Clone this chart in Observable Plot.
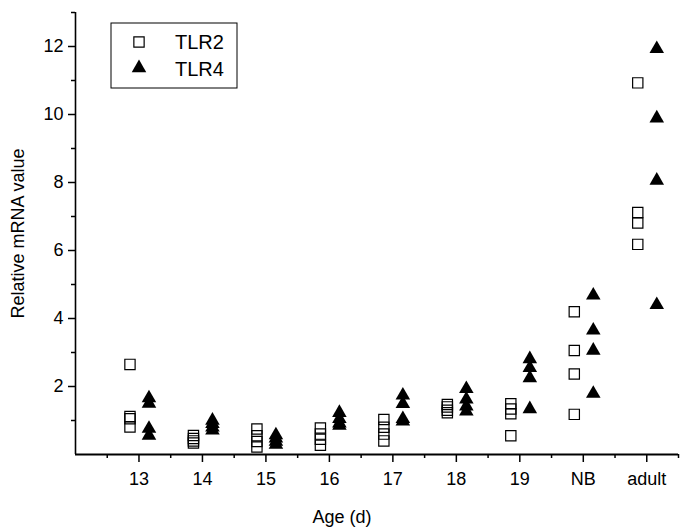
<!DOCTYPE html>
<html>
<head>
<meta charset="utf-8">
<script src="https://cdn.jsdelivr.net/npm/d3@7"></script>
<script src="https://cdn.jsdelivr.net/npm/@observablehq/plot@0.6"></script>
<style>
  html, body { margin: 0; padding: 0; background: white; }
  #chart { width: 683px; height: 527px; }
</style>
</head>
<body>
<div id="chart"></div>
<script>
const categories = ["13", "14", "15", "16", "17", "18", "19", "NB", "adult"];
const categoryPos = [13, 14, 15, 16, 17, 18, 19, 20, 21];
const tlr2 = [
  [2.65, 1.12, 1.05, 0.81],
  [0.56, 0.47, 0.40, 0.34],
  [0.75, 0.55, 0.38, 0.22],
  [0.78, 0.60, 0.45, 0.27],
  [1.03, 0.80, 0.60, 0.40],
  [1.47, 1.40, 1.30, 1.23],
  [1.49, 1.34, 1.20, 0.55],
  [4.20, 3.06, 2.37, 1.18],
  [10.93, 7.12, 6.81, 6.18]
];
const tlr4 = [
  [1.66, 1.50, 0.76, 0.56],
  [1.00, 0.90, 0.80, 0.71],
  [0.57, 0.48, 0.38, 0.29],
  [1.23, 1.05, 0.92, 0.85],
  [1.74, 1.49, 1.05, 0.98],
  [1.93, 1.62, 1.42, 1.27],
  [2.81, 2.55, 2.25, 1.34],
  [4.68, 3.65, 3.06, 1.79],
  [11.93, 9.89, 8.06, 4.40]
];
const yMajorTicks = [2, 4, 6, 8, 10, 12];
const yMinorTicks = [1, 3, 5, 7, 9, 11, 13];
const xMinorTicks = [12.5, 13.5, 14.5, 15.5, 16.5, 17.5, 18.5, 19.5, 20.5, 21.5];
const seriesNames = ["TLR2", "TLR4"];

const rows2 = tlr2.flatMap((vals, i) => vals.map(v => ({x: categoryPos[i], v})));
const rows4 = tlr4.flatMap((vals, i) => vals.map(v => ({x: categoryPos[i], v})));

const font = "'Liberation Sans', Arial, sans-serif";

const chart = Plot.plot({
  width: 683,
  height: 527,
  marginLeft: 75,
  marginRight: 5,
  marginTop: 12,
  marginBottom: 73,
  x: {domain: [12, 21.5]},
  y: {domain: [0, 13]},
  style: {fontFamily: font, color: "black", background: "white", overflow: "visible"},
  marks: [
    Plot.axisY({ticks: yMajorTicks, tickSize: 7, tickPadding: 5, fontSize: 18, label: null, strokeWidth: 1.5}),
    Plot.axisY({ticks: yMinorTicks, tickSize: 4, tickFormat: () => "", label: null, strokeWidth: 1.5}),
    Plot.axisX({ticks: categoryPos, tickSize: 8, tickPadding: 10, fontSize: 18,
      tickFormat: d => categories[categoryPos.indexOf(d)], label: null, strokeWidth: 1.5}),
    Plot.axisX({ticks: xMinorTicks, tickSize: 4, tickFormat: () => "", label: null, strokeWidth: 1.5}),
    Plot.ruleX([12], {stroke: "black", strokeWidth: 1.6}),
    Plot.ruleY([0], {stroke: "black", strokeWidth: 2}),
    Plot.text(["Age (d)"], {text: d => d, frameAnchor: "bottom", lineAnchor: "middle", textAnchor: "middle", dy: 63, dx: -35, fontSize: 18, fill: "black"}),
    Plot.text(["Relative mRNA value"], {text: d => d, frameAnchor: "left", textAnchor: "middle", lineAnchor: "middle", dx: -57, rotate: -90, fontSize: 18, fill: "black"}),
    Plot.dot(rows2, {x: "x", y: "v", symbol: "square", r: 5.8, stroke: "black", strokeWidth: 1.2, fill: "none", dx: -9}),
    Plot.dot(rows4, {x: "x", y: "v", symbol: "triangle", r: 5.4, fill: "black", stroke: "none", dx: 10})
  ]
});

// Legend drawn into the same SVG
const svg = d3.select(chart);
const lg = svg.append("g").attr("font-family", font).attr("text-anchor", "start");
lg.append("rect").attr("x", 111).attr("y", 23).attr("width", 126).attr("height", 65)
  .attr("fill", "white").attr("stroke", "black").attr("stroke-width", 1);
lg.append("path").attr("transform", "translate(139,42)")
  .attr("d", d3.symbol(d3.symbolSquare, 5.8 * 5.8 * Math.PI)())
  .attr("fill", "none").attr("stroke", "black").attr("stroke-width", 1.2);
lg.append("path").attr("transform", "translate(139,68)")
  .attr("d", d3.symbol(d3.symbolTriangle, 5.4 * 5.4 * Math.PI)())
  .attr("fill", "black");
lg.selectAll("text.lbl").data(seriesNames).join("text")
  .attr("class", "lbl")
  .attr("x", 175).attr("y", (d, i) => 49 + i * 27)
  .attr("text-anchor", "start")
  .attr("font-size", 20).attr("fill", "black").text(d => d);

document.getElementById("chart").appendChild(chart);
</script>
</body>
</html>
